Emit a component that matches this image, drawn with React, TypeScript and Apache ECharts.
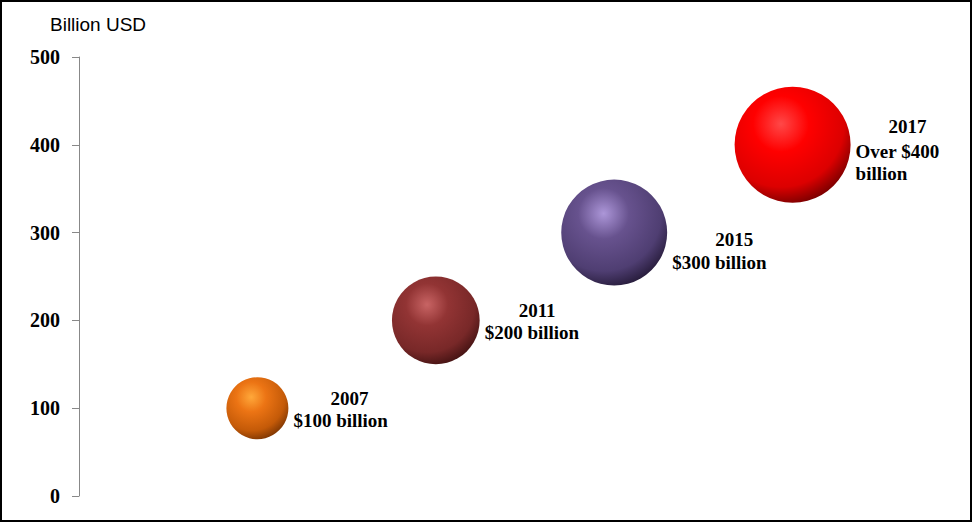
import React, { useEffect, useRef } from "react";
import * as echarts from "echarts";

const years = ["2007", "2011", "2015", "2017"];
const positions = [1, 2, 3, 4];
const values = [100, 200, 300, 400];
const bubbleSizes = [100, 200, 292, 350];
const amountTexts = ["$100 billion", "$200 billion", "$300 billion", "Over $400\nbillion"];
const yTicks = [0, 100, 200, 300, 400, 500];

const palettes = [
  { hi: "#ffa83a", base: "#ec7414", mid: "#c45a08", dark: "#5a2400" },
  { hi: "#c86464", base: "#923434", mid: "#782828", dark: "#2a0808" },
  { hi: "#ac96d8", base: "#67528e", mid: "#4f3e72", dark: "#120a1e" },
  { hi: "#ff4848", base: "#ff0000", mid: "#dc0000", dark: "#440000" },
];
const yearIndent = [37, 34, 43, 33];
const labelOffsets = [[0, 1], [0, 1], [0, 18], [0, 4]];

export default function App() {
  const ref = useRef<HTMLDivElement>(null);
  useEffect(() => {
    if (!ref.current) return;
    const chart = echarts.init(ref.current, undefined, { renderer: "svg" });
    const serif = "'Liberation Serif', 'Times New Roman', serif";
    const data = positions.map((x, i) => ({
      value: [x, values[i], bubbleSizes[i]],
      itemStyle: {
        opacity: 1,
        color: {
          type: "radial",
          x: 0.4,
          y: 0.32,
          r: 0.8,
          colorStops: [
            { offset: 0, color: palettes[i].hi },
            { offset: 0.3, color: palettes[i].base },
            { offset: 0.68, color: palettes[i].mid },
            { offset: 1, color: palettes[i].dark },
          ],
        },
      },
      label: {
        offset: labelOffsets[i],
        formatter: `{yr|${years[i]}}\n{amt|${amountTexts[i]}}`,
        rich: {
          yr: {
            fontFamily: serif,
            fontWeight: "bold",
            fontSize: 19,
            color: "#000",
            lineHeight: i === 3 ? 27 : 23,
            padding: [0, 0, 0, yearIndent[i]],
          },
          amt: {
            fontFamily: serif,
            fontWeight: "bold",
            fontSize: 19,
            color: "#000",
            lineHeight: 22,
          },
        },
      },
    }));
    chart.setOption({
      animation: false,
      backgroundColor: "#fff",
      title: {
        text: "Billion USD",
        left: 45,
        top: 10,
        textStyle: {
          fontFamily: "'Liberation Sans', Arial, sans-serif",
          fontWeight: "normal",
          fontSize: 19,
          color: "#000",
        },
      },
      grid: { left: 79, right: 1, top: 57, bottom: 26 },
      xAxis: {
        type: "value",
        min: 0,
        max: 5,
        show: false,
      },
      yAxis: {
        type: "value",
        min: 0,
        max: 500,
        interval: 100,
        splitLine: { show: false },
        axisLine: { show: true, lineStyle: { color: "#888", width: 1 } },
        axisTick: { show: true, length: 7, lineStyle: { color: "#888" } },
        axisLabel: {
          margin: 19,
          fontFamily: serif,
          fontWeight: "bold",
          fontSize: 20,
          color: "#000",
          formatter: (v: number) => (yTicks.includes(v) ? String(v) : ""),
        },
      },
      series: [
        {
          type: "scatter",
          symbolSize: (val: number[]) => 62 * Math.sqrt(val[2] / 100),
          itemStyle: { opacity: 1 },
          label: {
            show: true,
            position: "right",
            distance: 5,
            align: "left",
            color: "#000",
            opacity: 1,
          },
          emphasis: { disabled: true },
          data,
        },
      ],
    });
    return () => chart.dispose();
  }, []);
  return (
    <div style={{ position: "fixed", left: 0, top: 0, width: 972, height: 522, background: "#fff" }}>
      <div ref={ref} style={{ position: "absolute", left: 0, top: 0, width: 972, height: 522 }} />
      <div
        style={{
          position: "absolute",
          left: 0,
          top: 0,
          width: 972,
          height: 522,
          boxSizing: "border-box",
          border: "2px solid #000",
          pointerEvents: "none",
        }}
      />
    </div>
  );
}
